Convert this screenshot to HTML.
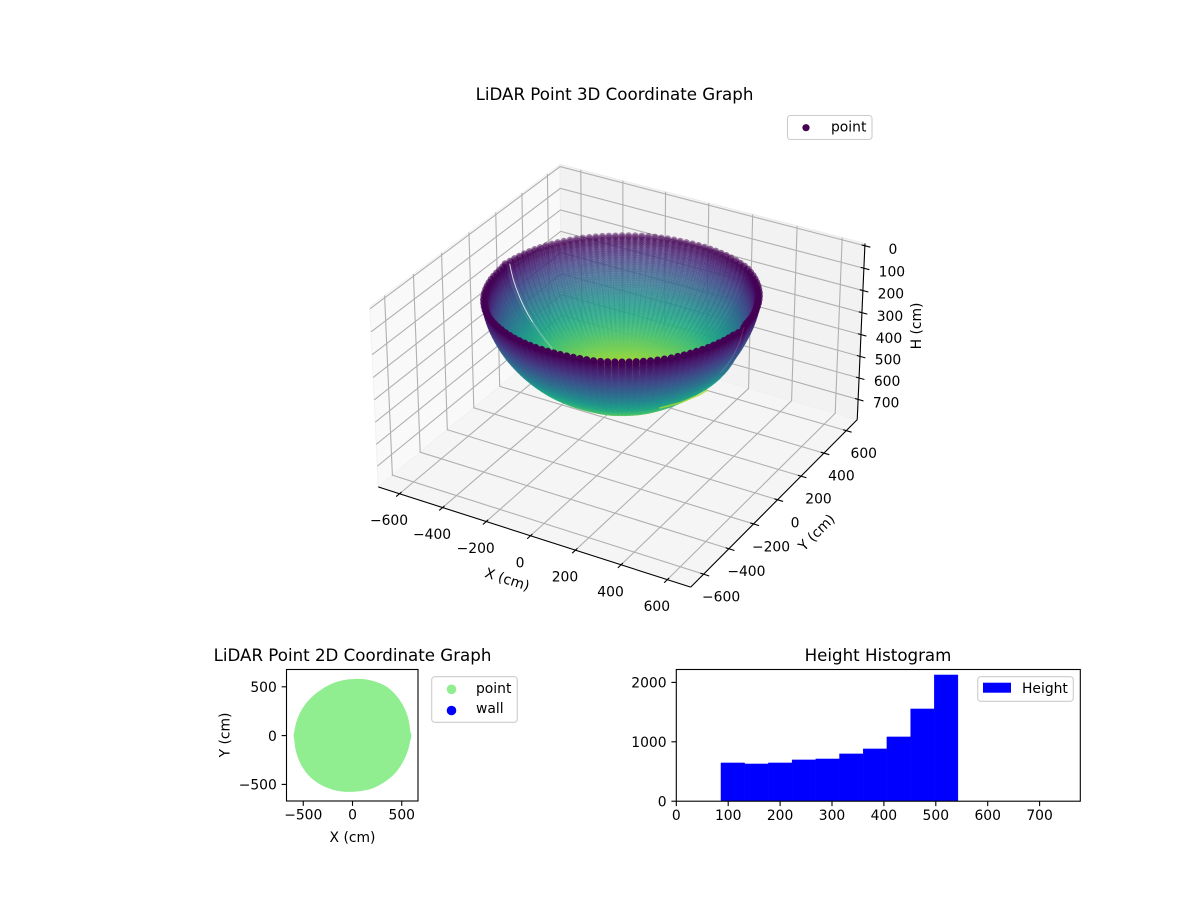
<!DOCTYPE html>
<html lang="en">
<head>
<meta charset="utf-8">
<title>LiDAR Point Graphs</title>
<style>
html,body{margin:0;padding:0;background:#fff;}
svg{display:block;font-family:"DejaVu Sans","Liberation Sans",sans-serif;font-size:13.89px;fill:#000;}
</style>
</head>
<body>
<svg id="figure" width="1200" height="900" viewBox="0 0 1200 900" xmlns="http://www.w3.org/2000/svg">
  <rect width="1200" height="900" fill="#fff"/>
  <g id="plot3d"></g>
  <text x="614.5" y="100" text-anchor="middle" font-size="16.67">LiDAR Point 3D Coordinate Graph</text>
  <g>
    <rect x="787.5" y="115.5" width="84.5" height="24" rx="3" fill="#fff" fill-opacity="0.8" stroke="#ccc" stroke-width="1.1"/>
    <circle cx="806" cy="127.7" r="3.6" fill="#440154"/>
    <text x="831" y="131.5">point</text>
  </g>
  <g id="plot2d"></g>
  <text x="352.5" y="661" text-anchor="middle" font-size="16.67">LiDAR Point 2D Coordinate Graph</text>
  <text x="352.5" y="842" text-anchor="middle">X (cm)</text>
  <text x="0" y="0" text-anchor="middle" transform="translate(229.5,735) rotate(-90)">Y (cm)</text>
  <g>
    <rect x="431.7" y="676.7" width="85.6" height="45.6" rx="3" fill="#fff" fill-opacity="0.8" stroke="#ccc" stroke-width="1.1"/>
    <circle cx="451.5" cy="689.3" r="4.8" fill="#90ee90"/>
    <text x="476" y="693">point</text>
    <circle cx="451.5" cy="710.5" r="4.8" fill="#0000ff"/>
    <text x="476" y="713">wall</text>
  </g>
  <g id="plotHist"></g>
  <text x="878" y="661" text-anchor="middle" font-size="16.67">Height Histogram</text>
  <g>
    <rect x="977.7" y="676.7" width="95.6" height="24.6" rx="3" fill="#fff" fill-opacity="0.8" stroke="#ccc" stroke-width="1.1"/>
    <rect x="983" y="682.7" width="28" height="10" fill="#0000ff"/>
    <text x="1022" y="693">Height</text>
  </g>
</svg>
<script>
/* ---------- chart data ---------- */
const xTicks3d = [-600, -400, -200, 0, 200, 400, 600];
const yTicks3d = [-600, -400, -200, 0, 200, 400, 600];
const zTicks3d = [0, 100, 200, 300, 400, 500, 600, 700];
const xLimit3d = [-700, 700];
const yLimit3d = [-700, 700];
const zLimit3d = [-10, 795];

const ringRadius = [570,566,564,562,560,558,555,553,550,547,544,540,537,533,529,525,521,517,512,508,503,498,493,488,482,477,471,465,459,453,447,440,434,427,421,414,407,399,392,385,377,370,362,354,346,338,330,322,313,305,296,288,279,270,261,252,243,234,225,215,206,197,187,178,168,158,149,139,129,120,110,100,90,80,70,60,50,40,30,20,10,0];
const ringHeight = [88,94,104,113,122,131,141,150,159,168,177,186,195,203,212,221,229,238,247,255,263,272,280,288,296,304,311,319,327,334,342,349,356,363,370,377,384,391,397,404,410,416,422,428,434,439,445,450,455,460,465,470,475,479,484,488,492,496,500,503,507,510,513,516,519,522,524,527,529,531,533,535,536,538,539,540,541,542,542,543,543,543];
const meridianAzimuth = [0,3,6,9,12,15,18,21,24,27,30,33,36,39,42,45,48,51,54,57,60,63,66,69,72,75,78,81,84,87,90,93,96,99,102,105,108,111,114,117,120,123,126,129,132,135,138,141,144,147,150,153,156,159,162,165,168,171,174,177,180,183,186,189,192,195,198,201,204,207,210,213,216,219,222,225,228,231,234,237,240,243,246,249,252,255,258,261,264,267,270,273,276,279,282,285,288,291,294,297,300,303,306,309,312,315,318,321,324,327,330,333,336,339,342,345,348,351,354,357];
const meridianReach = [.995,.98,.975,.977,.98,.982,.985,.987,.99,.992,.995,.998,1,1.003,1.005,1.008,1.01,1.012,1.015,1.012,1.008,1.003,.998,.994,.989,.984,.98,.975,.97,.965,.96,.958,.957,.955,.953,.952,.95,.948,.946,.944,.942,.94,.941,.943,.945,.947,.95,.952,.955,.957,.96,.962,.965,.967,.97,.972,.975,.978,.982,.986,.995,.986,.985,.986,.988,.99,.992,.994,.996,.998,1,1.002,1.003,1.004,1.005,1.005,1.003,1,.997,.994,.99,.987,.983,.98,.976,.972,.968,.965,.961,.958,.955,.953,.952,.952,.953,.955,.958,.958,.957,.955,.955,.955,.955,.957,.958,.96,.96,.962,.96,.96,.96,.96,.962,.964,.965,.967,.97,.972,.975,.985];
const viewReach3d = 0.94;
const viewDepth3d = 0.97;
const seamAzimuth = 178;
const seamReach = .985;
const seamFullRings = 30;
const seamFadeRings = 44;
const frontSeamAzimuth = 2;
const frontSeamRings = 28;
const colorLow = 88;
const colorHigh = 580;
const crescentX = [188, 237, 273, 282];
const crescentY = [-28, 46, 139, 185];
const crescentHeight = [518, 518, 518, 518];

const xTicks2d = [-500, 0, 500];
const yTicks2d = [-500, 0, 500];

const histEdges = [86,131.7,177.4,223,268.7,314.4,360,405.7,451.4,497,542.7];
const histCounts = [645,628,645,696,712,797,881,1083,1554,2126];
const histXTicks = [0,100,200,300,400,500,600,700];
const histYTicks = [0,1000,2000];

/* ---------- helpers ---------- */
const NS = 'http://www.w3.org/2000/svg';
const viridis = ['#440154','#482475','#414487','#355f8d','#2a788e','#21918c','#22a884','#44bf70','#7ad151','#bddf26','#fde725'];
function make(tag, parent, name, attrs, text) {
  const el = document.createElementNS(NS, tag);
  
  
  for (const k in attrs) el.setAttribute(k, attrs[k]);
  if (text !== undefined) el.textContent = text;
  parent.appendChild(el);
  return el;
}
function tickText(v) { return v < 0 ? '\u2212' + Math.abs(v) : String(v); }
function hex(c) { return [1,3,5].map(i => parseInt(c.substr(i,2),16)); }
function colorAt(t) {
  t = Math.max(0, Math.min(1, t)) * 10;
  const i = Math.min(9, Math.floor(t)), f = t - i;
  const a = hex(viridis[i]), b = hex(viridis[i+1]);
  return 'rgb(' + a.map((v,j) => Math.round(v + (b[j]-v)*f)).join(',') + ')';
}

/* ---------- 3D projection (elev 30, azim -60, perspective) ---------- */
const BOX_H = 0.5714, BOX_Z = 0.33, EYE = 10, SCALE = 3118, OX = 622, OY = 365;
const U = [0.866025, 0.5, 0], V = [-0.25, 0.433013, 0.866025], W = [0.433013, -0.75, 0.5];
function project(x, y, z) {
  const px = ((x - xLimit3d[0]) / (xLimit3d[1] - xLimit3d[0]) * 2 - 1) * BOX_H;
  const py = ((y - yLimit3d[0]) / (yLimit3d[1] - yLimit3d[0]) * 2 - 1) * BOX_H;
  const pz = (1 - (z - zLimit3d[0]) / (zLimit3d[1] - zLimit3d[0]) * 2) * BOX_Z;
  const d = EYE - (W[0]*px + W[1]*py + W[2]*pz);
  return {
    x: OX + SCALE * (U[0]*px + U[1]*py + U[2]*pz) / d,
    y: OY - SCALE * (V[0]*px + V[1]*py + V[2]*pz) / d,
    d: d
  };
}
function pts3d(list) { return list.map(p => { const q = project(p[0],p[1],p[2]); return q.x.toFixed(2)+','+q.y.toFixed(2); }).join(' '); }

/* ---------- 3D plot ---------- */
(function () {
  const g = document.getElementById('plot3d');
  const x0 = xLimit3d[0], x1 = xLimit3d[1], y0 = yLimit3d[0], y1 = yLimit3d[1], zt = zLimit3d[0], zb = zLimit3d[1];
  make('polygon', g, 'left-wall-pane', {points: pts3d([[x0,y0,zb],[x0,y1,zb],[x0,y1,zt],[x0,y0,zt]]), fill:'#f9f9f9', stroke:'#f2f2f2', 'stroke-width':1});
  make('polygon', g, 'back-wall-pane', {points: pts3d([[x0,y1,zb],[x1,y1,zb],[x1,y1,zt],[x0,y1,zt]]), fill:'#f2f2f2', stroke:'#ececec', 'stroke-width':1});
  make('polygon', g, 'floor-pane', {points: pts3d([[x0,y0,zb],[x1,y0,zb],[x1,y1,zb],[x0,y1,zb]]), fill:'#f5f5f5', stroke:'#f0f0f0', 'stroke-width':1});

  const grid = {fill:'none', stroke:'#b0b0b0', 'stroke-width':1.1};
  xTicks3d.forEach(v => make('polyline', g, 'x-gridline', Object.assign({points: pts3d([[v,y0,zb],[v,y1,zb],[v,y1,zt]])}, grid)));
  yTicks3d.forEach(v => make('polyline', g, 'y-gridline', Object.assign({points: pts3d([[x1,v,zb],[x0,v,zb],[x0,v,zt]])}, grid)));
  zTicks3d.forEach(v => make('polyline', g, 'z-gridline', Object.assign({points: pts3d([[x0,y0,v],[x0,y1,v],[x1,y1,v]])}, grid)));

  const axis = {fill:'none', stroke:'#000', 'stroke-width':1.1};
  make('polyline', g, 'x-axis-line', Object.assign({points: pts3d([[x0,y0,zb],[x1,y0,zb]])}, axis));
  make('polyline', g, 'y-axis-line', Object.assign({points: pts3d([[x1,y0,zb],[x1,y1,zb]])}, axis));
  make('polyline', g, 'z-axis-line', Object.assign({points: pts3d([[x1,y1,zb],[x1,y1,zt]])}, axis));

  xTicks3d.forEach(v => {
    make('polyline', g, 'x-tick', Object.assign({points: pts3d([[v,y0-24,zb],[v,y0+14,zb]])}, axis));
    const p = project(v,y0,zb);
    make('text', g, 'x-tick-label', {x:p.x-10.5, y:p.y+31.5, 'text-anchor':'middle'}, tickText(v));
  });
  yTicks3d.forEach(v => {
    make('polyline', g, 'y-tick', Object.assign({points: pts3d([[x1+24,v,zb],[x1-14,v,zb]])}, axis));
    const p = project(x1,v,zb);
    make('text', g, 'y-tick-label', {x:p.x+17.5, y:p.y+27.5, 'text-anchor':'middle'}, tickText(v));
  });
  zTicks3d.forEach(v => {
    make('polyline', g, 'z-tick', Object.assign({points: pts3d([[x1+24,y1,v],[x1-14,y1,v]])}, axis));
    const p = project(x1,y1,v);
    make('text', g, 'z-tick-label', {x:p.x+28, y:p.y+8.2, 'text-anchor':'middle'}, tickText(v));
  });
  make('text', g, 'x-axis-title', {'text-anchor':'middle', transform:'translate(507,580) rotate(18)', 'dominant-baseline':'middle'}, 'X (cm)');
  make('text', g, 'y-axis-title', {'text-anchor':'middle', transform:'translate(817,533) rotate(-45)', 'dominant-baseline':'middle'}, 'Y (cm)');
  make('text', g, 'z-axis-title', {'text-anchor':'middle', transform:'translate(917,326) rotate(-90)', 'dominant-baseline':'middle'}, 'H (cm)');

  const points = [];
  meridianAzimuth.forEach((az, m) => {
    const a = az * Math.PI / 180;
    ringRadius.forEach((r, k) => {
      const H = ringHeight[k];
      const reach = r * meridianReach[m] * viewReach3d;
      const p = project(reach*Math.cos(a), reach*Math.sin(a), H * viewDepth3d);
      points.push({x:p.x, y:p.y, d:p.d, H:H});
    });
  });
  let dMin = Infinity, dMax = -Infinity;
  points.forEach(p => { if (p.d < dMin) dMin = p.d; if (p.d > dMax) dMax = p.d; });
  points.sort((a,b) => b.d - a.d);
  const cloud = make('g', g, 'bowl-point-cloud', {});
  const frag = document.createDocumentFragment();
  points.forEach(p => {
    const c = document.createElementNS(NS, 'circle');
    
    
    c.setAttribute('cx', p.x.toFixed(2));
    c.setAttribute('cy', p.y.toFixed(2));
    c.setAttribute('r', '3.5');
    c.setAttribute('fill', colorAt((p.H - colorLow) / (colorHigh - colorLow)));
    c.setAttribute('fill-opacity', (0.45 + 0.55 * (dMax - p.d) / (dMax - dMin)).toFixed(3));
    frag.appendChild(c);
  });
  cloud.appendChild(frag);

  function meridianPath(azimuth, from, to) {
    const a = azimuth * Math.PI / 180, list = [];
    for (let k = from; k < to; k++) {
      const reach = ringRadius[k] * seamReach * viewReach3d;
      list.push([reach*Math.cos(a), reach*Math.sin(a), ringHeight[k] * viewDepth3d]);
    }
    return pts3d(list);
  }
  make('polyline', g, 'back-scan-seam', {points: meridianPath(seamAzimuth, 1, seamFullRings), fill:'none', stroke:'#fff', 'stroke-opacity':0.8, 'stroke-width':1});
  make('polyline', g, 'back-scan-seam-fade', {points: meridianPath(seamAzimuth, seamFullRings - 1, seamFadeRings), fill:'none', stroke:'#fff', 'stroke-opacity':0.3, 'stroke-width':1.2});
  make('polyline', g, 'front-scan-seam', {points: meridianPath(frontSeamAzimuth, 0, frontSeamRings), fill:'none', stroke:'#fff', 'stroke-opacity':0.12, 'stroke-width':1.2});
  make('polyline', g, 'bottom-crescent', {points: pts3d(crescentX.map((x,i) => [x, crescentY[i], crescentHeight[i]])), fill:'none', stroke:colorAt((crescentHeight[0]-colorLow)/(colorHigh-colorLow)), 'stroke-opacity':0.8, 'stroke-width':1.6, 'stroke-linecap':'round', 'stroke-linejoin':'round'});
})();

/* ---------- 2D plot ---------- */
(function () {
  const g = document.getElementById('plot2d');
  const L = 286.5, R = 418, T = 669.5, B = 801;
  const sx = v => 352.5 + v * 0.0985;
  const sy = v => 735.6 - v * 0.0976;
  make('rect', g, '2d-plot-area', {x:L, y:T, width:R-L, height:B-T, fill:'#fff'});
  const rim = meridianAzimuth.map((az, m) => {
    const a = az * Math.PI / 180, r = ringRadius[0] * meridianReach[m];
    return sx(r*Math.cos(a)).toFixed(2) + ',' + sy(r*Math.sin(a)).toFixed(2);
  }).join(' ');
  make('polygon', g, '2d-point-cloud', {points:rim, fill:'#90ee90', stroke:'#90ee90', 'stroke-width':6.2, 'stroke-linejoin':'round'});
  xTicks2d.forEach(v => {
    make('line', g, '2d-x-tick', {x1:sx(v), x2:sx(v), y1:B, y2:B+4.9, stroke:'#000', 'stroke-width':1.1});
    make('text', g, '2d-x-tick-label', {x:sx(v), y:B+18.7, 'text-anchor':'middle'}, tickText(v));
  });
  yTicks2d.forEach(v => {
    make('line', g, '2d-y-tick', {x1:L-4.9, x2:L, y1:sy(v), y2:sy(v), stroke:'#000', 'stroke-width':1.1});
    make('text', g, '2d-y-tick-label', {x:L-9.7, y:sy(v)+5.2, 'text-anchor':'end'}, tickText(v));
  });
  make('rect', g, '2d-plot-frame', {x:L, y:T, width:R-L, height:B-T, fill:'none', stroke:'#000', 'stroke-width':1.1});
})();

/* ---------- histogram ---------- */
(function () {
  const g = document.getElementById('plotHist');
  const L = 676.3, R = 1080.3, T = 669.5, B = 801.2;
  const sx = v => L + v * 0.519;
  const sy = v => B - v * 0.0594;
  histCounts.forEach((n, i) => {
    make('rect', g, 'histogram-bar', {x:sx(histEdges[i]), y:sy(n), width:sx(histEdges[i+1])-sx(histEdges[i]), height:B-sy(n), fill:'#0000ff', stroke:'#0000ff', 'stroke-width':0.3});
  });
  histXTicks.forEach(v => {
    make('line', g, 'histogram-x-tick', {x1:sx(v), x2:sx(v), y1:B, y2:B+4.9, stroke:'#000', 'stroke-width':1.1});
    make('text', g, 'histogram-x-tick-label', {x:sx(v), y:B+18.7, 'text-anchor':'middle'}, tickText(v));
  });
  histYTicks.forEach(v => {
    make('line', g, 'histogram-y-tick', {x1:L-4.9, x2:L, y1:sy(v), y2:sy(v), stroke:'#000', 'stroke-width':1.1});
    make('text', g, 'histogram-y-tick-label', {x:L-9.7, y:sy(v)+5.2, 'text-anchor':'end'}, tickText(v));
  });
  make('rect', g, 'histogram-frame', {x:L, y:T, width:R-L, height:B-T, fill:'none', stroke:'#000', 'stroke-width':1.1});
})();
</script>
</body>
</html>
